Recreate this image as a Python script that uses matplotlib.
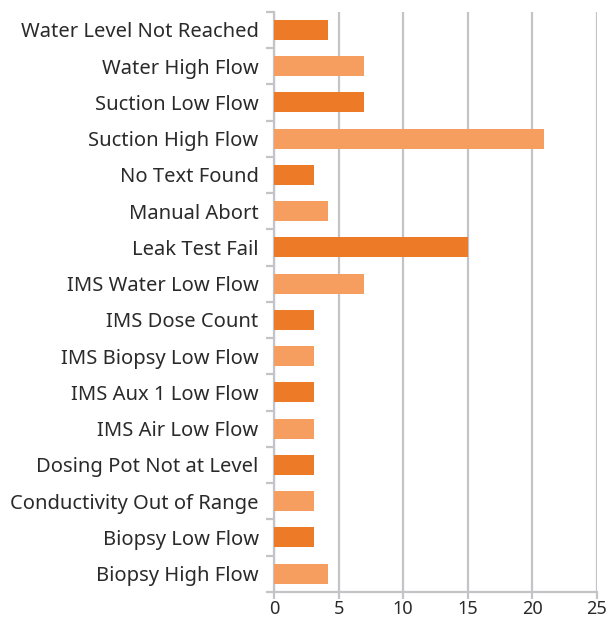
import numpy as np
import matplotlib.pyplot as plt

categories = ["Biopsy High Flow", "Biopsy Low Flow", "Conductivity Out of Range",
              "Dosing Pot Not at Level", "IMS Air Low Flow", "IMS Aux 1 Low Flow",
              "IMS Biopsy Low Flow", "IMS Dose Count", "IMS Water Low Flow",
              "Leak Test Fail", "Manual Abort", "No Text Found", "Suction High Flow",
              "Suction Low Flow", "Water High Flow", "Water Level Not Reached"]
counts = [4.2, 3.1, 3.1, 3.1, 3.1, 3.1, 3.1, 3.1, 7.0, 15.0, 4.2, 3.1, 20.9, 7.0, 7.0, 4.2]
bar_colors = ["#F59E60", "#ED7A27"]

plt.rcParams['font.family'] = ['Noto Sans', 'DejaVu Sans']
grid_c = "#C4C4C8"
text_c = "#2A2A2A"

fig = plt.figure(figsize=(6.06, 6.21), dpi=100)
ax = fig.add_axes([0.452, 0.047, 0.533, 0.934])

y = np.arange(len(categories))
colors = [bar_colors[i % 2] for i in range(len(categories))]
ax.barh(y, counts, height=0.55, color=colors, zorder=3)

ax.set_xlim(0, 25)
ax.set_ylim(-0.5, len(categories) - 0.5)
ax.set_xticks(np.arange(0, 26, 5))
ax.set_yticks(y)
ax.set_yticklabels(categories)
ax.set_yticks(np.arange(-0.5, len(categories)), minor=True)

ax.grid(axis="x", color=grid_c, linewidth=1.6, zorder=0)
for s in ["top", "right"]:
    ax.spines[s].set_visible(False)
for s in ["left", "bottom"]:
    ax.spines[s].set_color(grid_c)
    ax.spines[s].set_linewidth(1.6)

ax.tick_params(axis="y", which="major", length=0, pad=11, labelsize=14.5, labelcolor=text_c)
ax.tick_params(axis="y", which="minor", length=6, width=1.6, color=grid_c)
ax.tick_params(axis="x", which="major", length=5, width=1.6, color=grid_c,
               labelsize=13, labelcolor=text_c, pad=1)

fig.savefig("out.png", dpi=100)
